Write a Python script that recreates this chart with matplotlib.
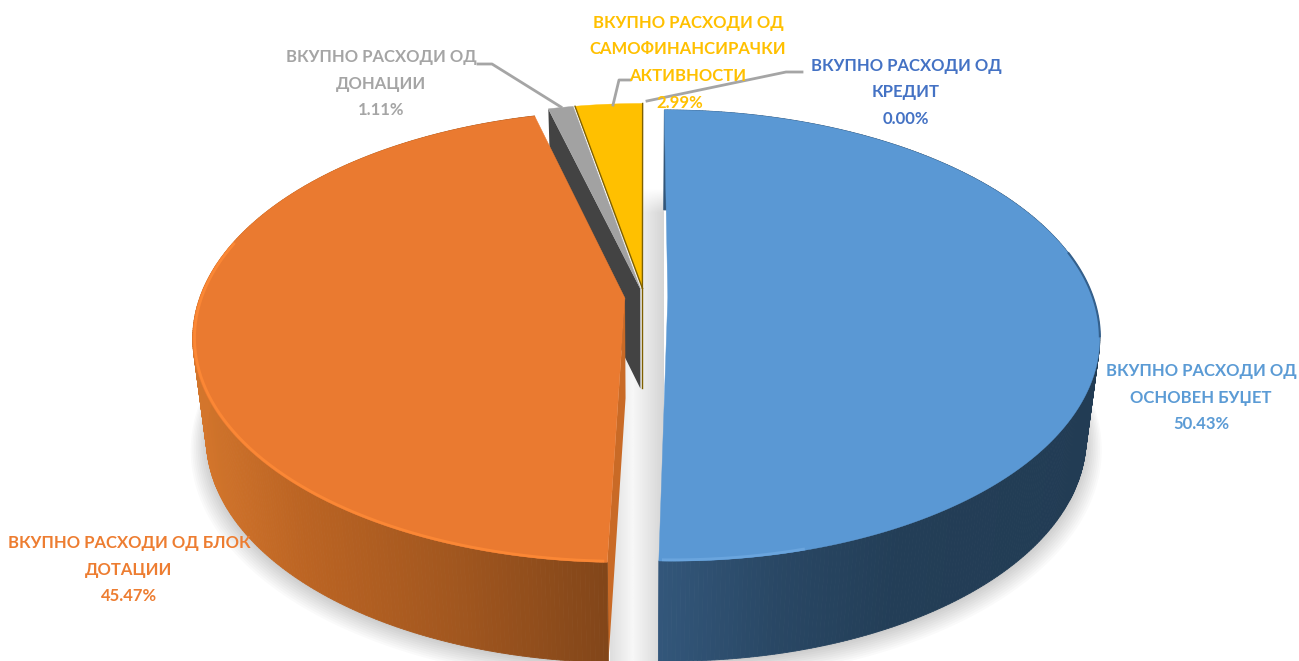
import matplotlib
matplotlib.use("Agg")
import matplotlib.pyplot as plt
import matplotlib.colors as mcolors
import numpy as np

# data, clockwise from 12 o'clock
categories = ["ВКУПНО РАСХОДИ ОД\nОСНОВЕН БУЏЕТ",
              "ВКУПНО РАСХОДИ ОД БЛОК\nДОТАЦИИ",
              "ВКУПНО РАСХОДИ ОД\nДОНАЦИИ",
              "ВКУПНО РАСХОДИ ОД\nСАМОФИНАНСИРАЧКИ\nАКТИВНОСТИ",
              "ВКУПНО РАСХОДИ ОД\nКРЕДИТ"]
values = [50.43, 45.47, 1.11, 2.99, 0.00]
colors = ["#5b9bd5", "#ed7d31", "#a5a5a5", "#ffc000", "#4472c4"]
label_x = [1201, 129, 381, 688, 906]
label_y = [371, 543, 57, 23, 66]
explode = [0.056, 0.045, 0.04, 0.04, 0.04]

# fake 3d camera
CX, CY, RX, RY, K, DEPTH = 644, 297, 425, 219, 0.17, 100
LINE_H = 26.5

plt.rcParams['font.family'] = ['Lato', 'Open Sans', 'DejaVu Sans']
plt.rcParams['font.weight'] = 'bold'


def project(u, v, z=0.0):
    w = 1 + K * v
    s = 1 - 0.03 * z
    return CX + RX * u * s / w, CY - RY * v / w + DEPTH * z


def rim(a1, a2, off, z=0.0, r=1.0):
    ang = np.radians(np.linspace(a1, a2, max(int(abs(a2 - a1)) * 2, 2) + 1))
    return project(off[0] + r * np.sin(ang), off[1] + r * np.cos(ang), z)


def side_color(x, xs, cols):
    rgb = np.array([mcolors.to_rgb(c) for c in cols])
    return [np.interp(x, xs, rgb[:, i]) for i in range(3)]


def draw_side(ax, a1, a2, off, xs, cols, z):
    tx, ty = rim(a1, a2, off)
    bx, by = rim(a1, a2, off, 1.0)
    for i in range(len(tx) - 1):
        c = side_color((tx[i] + tx[i + 1]) / 2, xs, cols)
        ax.fill([tx[i], tx[i + 1], bx[i + 1], bx[i]],
                [ty[i], ty[i + 1], by[i + 1], by[i]],
                color=c, lw=0.6, zorder=z)


def draw_cut(ax, angle, off, color, z):
    ang = np.radians(angle)
    u = off[0] + np.sin(ang)
    v = off[1] + np.cos(ang)
    p = [project(off[0], off[1]), project(u, v), project(u, v, 1.0), project(off[0], off[1], 1.0)]
    ax.fill([q[0] for q in p], [q[1] for q in p], color=color, lw=0, zorder=z)


def draw_top(ax, a1, a2, off, color, z):
    x, y = rim(a1, a2, off)
    ax0, ay0 = project(off[0], off[1])
    ax.fill(np.r_[ax0, x], np.r_[ay0, y], color=color, lw=0.3, zorder=z)


fig = plt.figure(figsize=(12.99, 6.61), dpi=100)
ax = fig.add_axes([0, 0, 1, 1])
ax.set_xlim(0, 1299)
ax.set_ylim(661, 0)
ax.axis('off')

edges = np.r_[0, np.cumsum(values)] * 3.6
mids = (edges[:-1] + edges[1:]) / 2
offs = [(e * np.sin(np.radians(m)), e * np.cos(np.radians(m))) for e, m in zip(explode, mids)]

# soft shadow around the lower rim
for i in range(10):
    for off in (offs[0], offs[1]):
        a1, a2 = (40, 182) if off is offs[0] else (181, 300)
        x, y = rim(a1, a2, off, 1.0, 1.0 + i * 0.004)
        ax.fill(x, y + 2 + i * 0.8, color='black', alpha=0.018, lw=0, zorder=1)

# grey gap between the two big slices
gx = np.linspace(0, 1, 40)
gy = np.linspace(0, 1, 60)
shade = 1 - 0.24 * np.abs(gx - 0.42)[None, :] * np.ones((60, 40))
fade = np.clip(gy[:, None] / 0.05, 0, 1)
shade = 1 - (1 - shade * 0.97) * fade
ax.imshow(shade, extent=(610, 664, 661, 185), cmap='gray', vmin=0, vmax=1,
          aspect='auto', zorder=2, interpolation='bilinear')
ax.set_xlim(0, 1299)
ax.set_ylim(661, 0)

# back slices
draw_cut(ax, edges[2], offs[2], '#434343', 3)
draw_top(ax, edges[2], edges[3], offs[2], '#a2a2a2', 4)
draw_top(ax, edges[3], edges[4], offs[3], colors[3], 4)
for angle, off in [(edges[3], offs[3]), (edges[4], offs[3])]:
    ang = np.radians(angle)
    p0 = project(off[0], off[1])
    p1 = project(off[0] + np.sin(ang), off[1] + np.cos(ang))
    ax.plot([p0[0], p1[0]], [p0[1], p1[1]], color='#7f6000', lw=1, zorder=5)
p0 = project(offs[3][0], offs[3][1])
ax.plot([p0[0], p0[0]], [p0[1], p0[1] + DEPTH], color='#7f6000', lw=1, zorder=3.5)

# orange slice
draw_cut(ax, edges[1], offs[1], '#c96a26', 6)
draw_side(ax, edges[1], edges[2], offs[1],
          [190, 300, 450, 610], ['#d4762c', '#bb6423', '#a2571f', '#814519'], 6)
draw_top(ax, edges[1], edges[2], offs[1], '#ea7a30', 7)
x, y = rim(edges[1] + 0.5, 285, offs[1], 0, 0.996)
ax.plot(x, y, color='#fb8735', lw=2, zorder=8)

# blue slice
draw_side(ax, edges[0], edges[1], offs[0],
          [655, 780, 900, 1100], ['#33577b', '#294764', '#233e57', '#223c54'], 9)
draw_top(ax, edges[0], edges[1], offs[0], '#5a98d4', 10)
x, y = rim(165, edges[1] - 0.5, offs[0], 0, 0.996)
ax.plot(x, y, color='#6aa5de', lw=2, zorder=11)
x, y = rim(78, 100, offs[0])
ax.plot(x, y, color='#34608c', lw=1.5, zorder=11)

# leader lines
leader = '#a5a5a5'
ax.plot([478, 492, 561], [64, 64, 107], color=leader, lw=2, zorder=12)
ax.plot([630, 619, 613], [80, 80, 105], color=leader, lw=2, zorder=12)
ax.plot([802, 786, 647], [72, 72, 101], color=leader, lw=2, zorder=12)

# labels, the percent goes on the line under the name
for name, val, col, lx, ly in zip(categories, values, colors, label_x, label_y):
    lines = name.split("\n")
    for i, line in enumerate(lines):
        ax.text(lx, ly + i * LINE_H, line, color=col, fontsize=12,
                ha='center', va='center', zorder=13)
    px = 680 if lx == 688 else lx
    ax.text(px, ly + len(lines) * LINE_H, f"{val:.2f}%", color=col, fontsize=12,
            ha='center', va='center', zorder=13)

fig.savefig("out.png", dpi=100)
